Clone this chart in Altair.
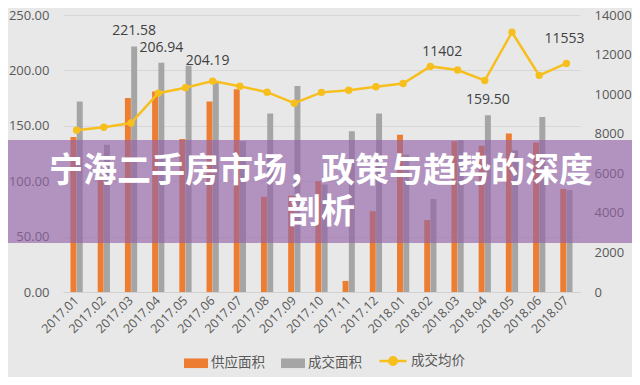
import altair as alt
import pandas as pd

# ---------------- data ----------------
months = ["2017.01", "2017.02", "2017.03", "2017.04", "2017.05", "2017.06", "2017.07",
          "2017.08", "2017.09", "2017.10", "2017.11", "2017.12", "2018.01", "2018.02",
          "2018.03", "2018.04", "2018.05", "2018.06", "2018.07"]
supply_area = [140, 105, 175, 181, 138, 172, 183, 86, 87, 100, 10, 73, 142, 65, 136, 132, 143, 135, 93]
deal_area = [172, 133, 221.58, 206.94, 204.19, 189, 136, 161, 186, 97, 145, 161, 124, 84, 137,
             159.50, 128, 158, 92]
avg_price = [8180, 8330, 8540, 10050, 10320, 10660, 10400, 10100, 9540, 10090, 10200, 10370,
             10540, 11402, 11220, 10690, 13130, 10950, 11553]
bar_series = ["供应面积", "成交面积"]
line_series = "成交均价"
left_ticks = [0, 50, 100, 150, 200, 250]
right_ticks = [0, 2000, 4000, 6000, 8000, 10000, 12000, 14000]
labelled_deal_months = ["2017.03", "2017.04", "2018.04"]
offset_deal_month = "2017.05"
title_lines = ["宁海二手房市场，政策与趋势的深度", "剖析"]

ORANGE = "#ED7D31"
GRAY = "#A5A5A5"
YELLOW = "#F7BF1E"
TXT = "#595959"
BG = "#E8E8E8"
NUMFONT = "Open Sans"
CJK = "Noto Sans CJK SC"

bars_df = pd.DataFrame({
    "month": months * 2,
    "series": [bar_series[0]] * len(months) + [bar_series[1]] * len(months),
    "value": supply_area + deal_area,
})
line_df = pd.DataFrame({"month": months, "series": line_series, "price": avg_price})

x_enc = alt.X("month:N", sort=months,
              scale=alt.Scale(paddingInner=0.55, paddingOuter=0.275),
              axis=alt.Axis(title=None, labelAngle=-45, labelAlign="right", labelBaseline="middle",
                            labelPadding=6, ticks=False, domainColor="#D2D2D2", grid=False,
                            labelColor=TXT, labelFont=NUMFONT, labelFontSize=12.5))
xoff_enc = alt.XOffset("series:N", sort=bar_series, scale=alt.Scale(domain=bar_series, paddingInner=0.05))
y_left = alt.Y("value:Q", scale=alt.Scale(domain=[0, 250], nice=False),
               axis=alt.Axis(title=None, values=left_ticks, format=".2f", ticks=False, domain=False,
                             labelPadding=14, gridColor="#D7D7D7", labelColor=TXT,
                             labelFont=NUMFONT, labelFontSize=13))
y_right = alt.Y("price:Q", scale=alt.Scale(domain=[0, 14000], nice=False),
                axis=alt.Axis(title=None, orient="right", values=right_ticks, format="d", ticks=False,
                              domain=False, grid=False, labelPadding=14, labelColor=TXT,
                              labelFont=NUMFONT, labelFontSize=13))

bars = alt.Chart(bars_df).mark_bar().encode(
    x=x_enc, xOffset=xoff_enc, y=y_left,
    color=alt.Color("series:N", sort=bar_series,
                    scale=alt.Scale(domain=bar_series, range=[ORANGE, GRAY]),
                    legend=alt.Legend(title=None, orient="none", legendX=121, legendY=336,
                                      direction="horizontal", symbolType="M-1,-0.4H1V0.4H-1Z",
                                      symbolSize=576, symbolStrokeWidth=0, labelFont=CJK,
                                      labelFontSize=13.5, labelColor=TXT, columnPadding=16,
                                      labelOffset=3)),
)

deal_only = alt.datum.series == bar_series[1]
bar_labels = alt.Chart(bars_df).transform_filter(deal_only).transform_filter(
    alt.FieldOneOfPredicate(field="month", oneOf=labelled_deal_months)
).mark_text(dy=-15, font=NUMFONT, fontSize=14, color="#404040").encode(
    x=x_enc, xOffset=xoff_enc, y=y_left, text=alt.Text("value:Q", format=".2f"))
bar_label2 = alt.Chart(bars_df).transform_filter(deal_only).transform_filter(
    alt.datum.month == offset_deal_month
).mark_text(dy=-5, dx=19, font=NUMFONT, fontSize=14, color="#404040").encode(
    x=x_enc, xOffset=xoff_enc, y=y_left, text=alt.Text("value:Q", format=".2f"))

line = alt.Chart(line_df).mark_line(strokeWidth=2.5).encode(
    x=x_enc, y=y_right,
    stroke=alt.Stroke("series:N", scale=alt.Scale(domain=[line_series], range=[YELLOW]),
                      legend=alt.Legend(title=None, orient="none", legendX=315, legendY=331,
                                        symbolType="M-1,0H1M0.28,0A0.28,0.28,0,1,1,-0.28,0A0.28,0.28,0,1,1,0.28,0Z",
                                        symbolSize=729, symbolStrokeWidth=2.5,
                                        symbolFillColor=YELLOW, symbolStrokeColor=YELLOW,
                                        labelFont=CJK, labelFontSize=13.5, labelColor=TXT,
                                        labelOffset=3)),
)
points = alt.Chart(line_df).mark_circle(size=55, opacity=1, color=YELLOW).encode(x=x_enc, y=y_right)
price_lab1 = alt.Chart(line_df).transform_filter(alt.datum.month == "2018.02").mark_text(
    dy=-14, dx=12, font=NUMFONT, fontSize=14, color="#404040").encode(
    x=x_enc, y=y_right, text=alt.Text("price:Q", format="d"))
price_lab2 = alt.Chart(line_df).transform_filter(alt.datum.month == "2018.07").mark_text(
    dy=-24, dx=-2, font=NUMFONT, fontSize=14, color="#404040").encode(
    x=x_enc, y=y_right, text=alt.Text("price:Q", format="d"))

left = alt.layer(bars, bar_labels, bar_label2)
right = alt.layer(line, points, price_lab1, price_lab2)

one = pd.DataFrame({"k": [0]})
banner = alt.Chart(one).mark_rect(color="#9363A8", opacity=0.64).encode(
    x=alt.value(-56), x2=alt.value(570), y=alt.value(125), y2=alt.value(228))
t1 = alt.Chart(one).mark_text(text=title_lines[0], font=CJK, fontWeight="bold", fontSize=34,
                              color="white", align="center", baseline="middle").encode(
    x=alt.value(258), y=alt.value(157))
t2 = alt.Chart(one).mark_text(text=title_lines[1], font=CJK, fontWeight="bold", fontSize=34,
                              color="white", align="center", baseline="middle").encode(
    x=alt.value(258), y=alt.value(198))

chart = alt.layer(left, right, banner, t1, t2).resolve_scale(
    y="independent", color="independent", stroke="independent"
).properties(
    width=517, height=277,
    padding={"left": 55, "top": 7, "right": 52, "bottom": 85},
    autosize=alt.AutoSizeParams(type="none"),
    background=BG,
).configure_view(stroke=None)

chart.save("out.html", embed_options={"renderer": "svg", "actions": False})
